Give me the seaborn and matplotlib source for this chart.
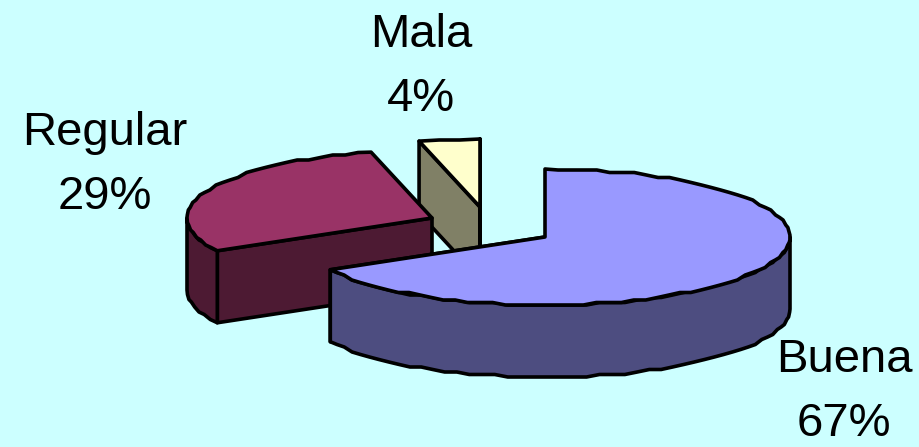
import numpy as np
import matplotlib
matplotlib.use("Agg")
import matplotlib.pyplot as plt
from matplotlib.patches import Polygon
import seaborn as sns

categorias = ["Buena", "Regular", "Mala"]
porcentajes = [67, 29, 4]
colores_tapa = ["#9999FF", "#993366", "#FFFFCC"]
colores_lado = ["#4D4D80", "#4D1A33", "#808066"]
etiquetas = ["Buena\n67%", "Regular\n29%", "Mala\n4%"]

FONDO = "#CCFFFF"
RX, RY, ALTO = 245, 68, 72
# vertice de cada porcion en pixeles de la imagen
centros = {"Buena": (545, 237), "Regular": (432, 218), "Mala": (480, 207)}
pos_etiquetas = {"Buena": (844, 392), "Regular": (105, 165), "Mala": (421, 67)}


def arco(centro, ini, fin):
    """Puntos del borde de la elipse, con el escalonado del original"""
    n = max(2, int(abs(fin - ini) / 3))
    ang = np.radians(np.linspace(ini, fin, n))
    x = centro[0] + RX * np.sin(ang)
    y = centro[1] - RY * np.cos(ang)
    y[1:-1] = np.round(y[1:-1] / 2.5) * 2.5
    return np.column_stack([x, y])


def poly(ax, pts, color):
    ax.add_patch(Polygon(pts, closed=True, facecolor=color, edgecolor="black",
                         linewidth=2.6, joinstyle="round"))


def porcion(ax, nombre, ini, fin, tapa, lado):
    c = np.array(centros[nombre], dtype=float)
    abajo = np.array([0, ALTO])
    borde = arco(c, ini, fin)
    # caras de corte
    for extremo in (borde[0], borde[-1]):
        if extremo[1] > c[1] or nombre == "Mala":
            poly(ax, [c, extremo, extremo + abajo, c + abajo], lado)
    # pared exterior visible (la parte delantera de la elipse)
    a, b = max(ini, 90), min(fin, 270)
    if a < b:
        pared = arco(c, a, b)
        poly(ax, np.vstack([pared, (pared + abajo)[::-1]]), lado)
    poly(ax, np.vstack([c, borde]), tapa)


sns.set_style("white")
plt.rcParams["font.family"] = ["Liberation Sans", "DejaVu Sans"]

fig, ax = plt.subplots(figsize=(9.19, 4.47), dpi=100)
fig.patch.set_facecolor(FONDO)
ax.set_position([0, 0, 1, 1])
ax.set_xlim(0, 919)
ax.set_ylim(447, 0)
ax.axis("off")

# angulos a partir de los porcentajes, sentido horario desde arriba
limites = np.cumsum([0] + porcentajes) / sum(porcentajes) * 360
orden = [2, 1, 0]  # de atras hacia delante
for i in orden:
    porcion(ax, categorias[i], limites[i], limites[i + 1], colores_tapa[i], colores_lado[i])

for nombre, txt in zip(categorias, etiquetas):
    x, y = pos_etiquetas[nombre]
    ax.text(x, y, txt, ha="center", va="center", fontsize=34, color="black", linespacing=1.57)

fig.savefig("out.png", dpi=100, facecolor=FONDO)
